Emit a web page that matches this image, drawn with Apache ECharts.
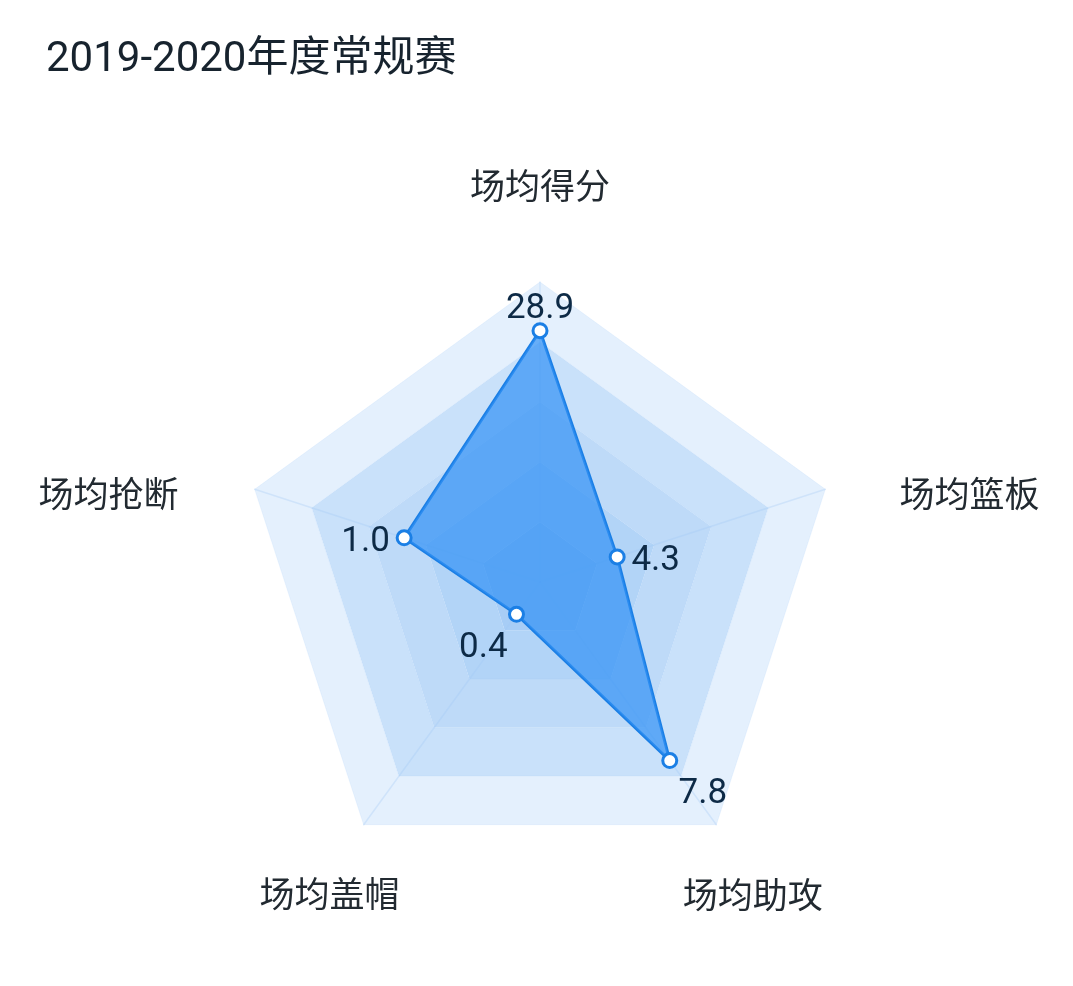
<!DOCTYPE html>
<html>
<head>
<meta charset="utf-8">
<title>2019-2020年度常规赛</title>
<script src="https://cdn.jsdelivr.net/npm/echarts@6/dist/echarts.min.js"></script>
<style>
  html, body { margin: 0; padding: 0; background: #fff; }
  #chart { width: 1073px; height: 986px; }
</style>
</head>
<body>
<div id="chart"></div>
<script>
// 指标（逆时针，从正上方开始）
const indicatorNames = ['场均得分', '场均抢断', '场均盖帽', '场均助攻', '场均篮板']
const indicatorMax = [34.5, 2.1, 3.0, 10.6, 15.9]
const seasonValues = [28.9, 1.0, 0.4, 7.8, 4.3]

const CENTER = [540, 582]
const RADIUS = 300
const FONT = 'Roboto, "Noto Sans CJK SC", sans-serif'

// 每个指标名称的位置微调
const nameLayouts = [
  { gap: 74, textStyle: {} },
  { gap: 80, textStyle: { align: 'right', verticalAlign: 'top', padding: [16, 0, 0, 0] } },
  { gap: 58, textStyle: { align: 'center', verticalAlign: 'top', padding: [9, 0, 0, 0] } },
  { gap: 62, textStyle: { align: 'center', verticalAlign: 'top', padding: [7, 0, 0, 0] } },
  { gap: 78, textStyle: { align: 'left', verticalAlign: 'top', padding: [16, 0, 0, 0] } }
]

const chart = echarts.init(document.getElementById('chart'), null, { renderer: 'canvas' })

const option = {
  backgroundColor: '#fff',
  animation: false,
  title: {
    text: '2019-2020年度常规赛',
    left: 46,
    top: 39,
    padding: 0,
    textStyle: {
      color: '#17232e',
      fontSize: 42,
      fontWeight: 'normal',
      fontFamily: FONT
    }
  },
  radar: {
    center: CENTER,
    radius: RADIUS,
    startAngle: 90,
    splitNumber: 5,
    shape: 'polygon',
    indicator: indicatorNames.map((name, i) => ({
      name: name,
      max: indicatorMax[i],
      min: 0,
      nameGap: nameLayouts[i].gap,
      nameTextStyle: nameLayouts[i].textStyle
    })),
    axisName: {
      color: '#222a31',
      fontSize: 35,
      fontFamily: FONT
    },
    axisLine: {
      lineStyle: { color: 'rgba(160, 200, 245, 0.3)', width: 1.5 }
    },
    splitLine: {
      lineStyle: { color: 'rgba(160, 200, 245, 0.15)', width: 1 }
    },
    splitArea: {
      areaStyle: {
        color: ['#a7cdf6', '#b2d4f7', '#bedaf8', '#c9e1fa', '#e4f0fd']
      }
    }
  },
  series: [
    {
      type: 'radar',
      symbol: 'circle',
      symbolSize: 14,
      itemStyle: {
        color: '#ffffff',
        borderColor: '#1b7fe5',
        borderWidth: 3
      },
      lineStyle: {
        color: '#1b7fe5',
        width: 3
      },
      areaStyle: {
        color: 'rgba(50, 145, 245, 0.7)',
        opacity: 1
      },
      label: {
        show: true,
        color: '#0d2a46',
        fontSize: 35,
        fontFamily: FONT,
        formatter: p => p.value.toFixed(1)
      },
      // 数值标签沿半径方向向外放置
      labelLayout: function (params) {
        const r = params.rect
        const px = r.x + r.width / 2
        const py = r.y + r.height / 2
        const dx = px - CENTER[0]
        const dy = py - CENTER[1]
        const len = Math.sqrt(dx * dx + dy * dy) || 1
        const ux = dx / len
        const uy = dy / len
        const d = 13
        const align = Math.abs(ux) < 0.2 ? 'center' : (ux > 0 ? 'left' : 'right')
        const verticalAlign = Math.abs(uy) < 0.5 ? 'middle' : (uy > 0 ? 'top' : 'bottom')
        const shiftY = verticalAlign === 'middle' ? 8 : (verticalAlign === 'bottom' ? 9 : 6)
        return {
          x: px + ux * (d + 2),
          y: py + uy * d + shiftY,
          align: align,
          verticalAlign: verticalAlign
        }
      },
      data: [
        { name: '2019-2020年度常规赛', value: seasonValues }
      ]
    }
  ]
}

chart.setOption(option)
</script>
</body>
</html>
